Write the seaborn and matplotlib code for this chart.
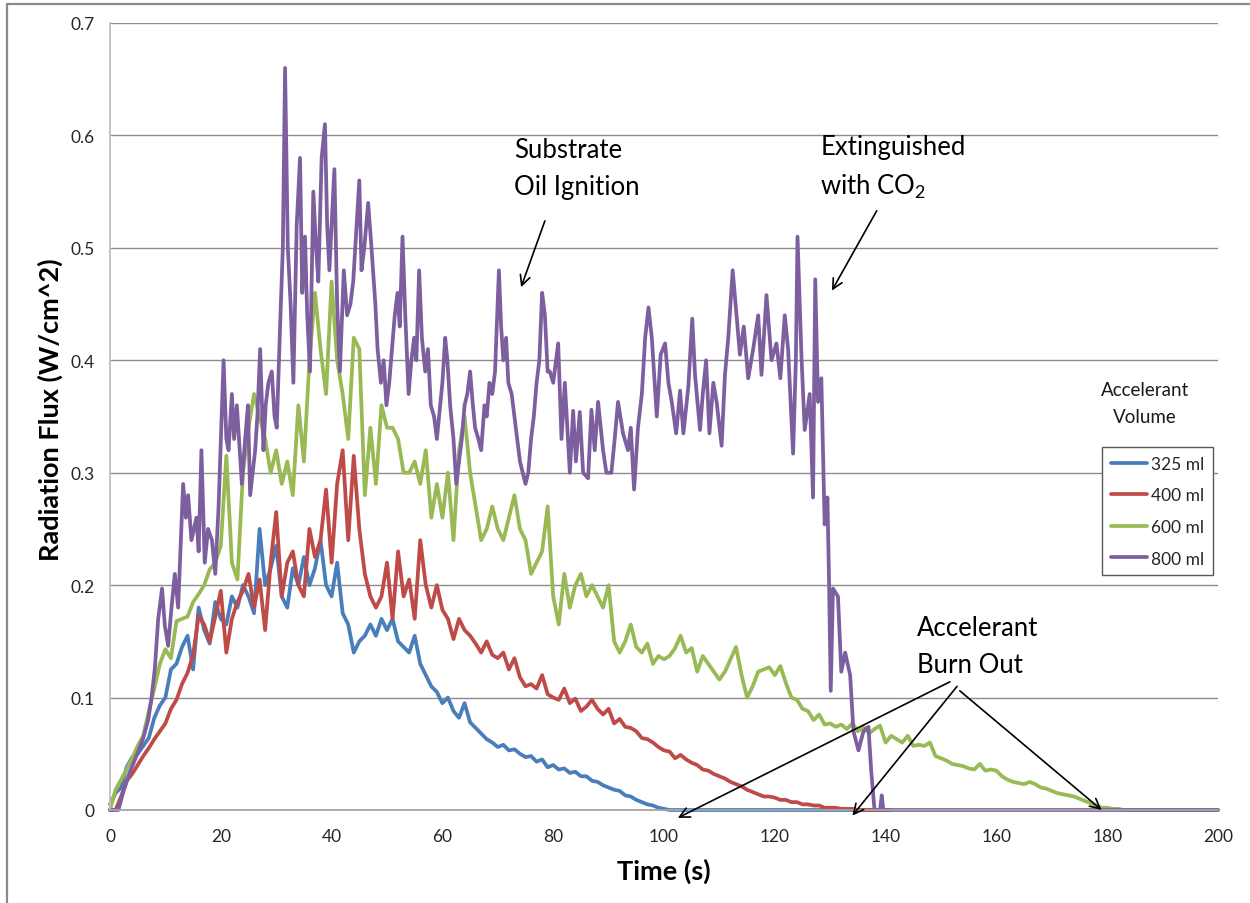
import numpy as np
import pandas as pd
import matplotlib
matplotlib.use("Agg")
import matplotlib.pyplot as plt
import seaborn as sns
from matplotlib.ticker import FuncFormatter
from matplotlib.lines import Line2D

# ---------------- data ----------------
series_labels = ["325 ml", "400 ml", "600 ml", "800 ml"]
series_colors = ["#4A7EBB", "#BE4B48", "#98B954", "#7D5FA0"]

# 325 ml, one value per second from t = 0 s
blue_325 = [0.005, 0.015, 0.02, 0.038, 0.047, 0.05, 0.057, 0.064, 0.082, 0.093,
            0.10, 0.125, 0.13, 0.145, 0.155, 0.125, 0.18, 0.16, 0.148, 0.185,
            0.17, 0.165, 0.19, 0.18, 0.20, 0.19, 0.175, 0.25, 0.20, 0.215,
            0.235, 0.19, 0.18, 0.215, 0.20, 0.225, 0.20, 0.215, 0.24, 0.20,
            0.19, 0.22, 0.175, 0.165, 0.14, 0.15, 0.155, 0.165, 0.155, 0.17,
            0.16, 0.17, 0.15, 0.145, 0.14, 0.155, 0.13, 0.12, 0.11, 0.105,
            0.095, 0.10, 0.088, 0.082, 0.095, 0.078, 0.073, 0.068, 0.063, 0.06,
            0.056, 0.058, 0.053, 0.054, 0.05, 0.047, 0.048, 0.043, 0.045, 0.038,
            0.04, 0.036, 0.037, 0.033, 0.034, 0.03, 0.03, 0.026, 0.025, 0.022,
            0.02, 0.018, 0.017, 0.013, 0.012, 0.009, 0.007, 0.005, 0.004, 0.002,
            0.001] + [0.0] * 40

# 400 ml, one value per second from t = 0 s
red_400 = [0.0, 0.0, 0.012, 0.026, 0.032, 0.04, 0.048, 0.055, 0.063, 0.07,
           0.077, 0.09, 0.098, 0.112, 0.122, 0.138, 0.173, 0.165, 0.15, 0.172,
           0.195, 0.14, 0.17, 0.185, 0.195, 0.21, 0.18, 0.205, 0.16, 0.22,
           0.265, 0.19, 0.22, 0.23, 0.20, 0.19, 0.25, 0.225, 0.24, 0.285,
           0.22, 0.29, 0.32, 0.24, 0.315, 0.25, 0.21, 0.19, 0.18, 0.19,
           0.22, 0.17, 0.23, 0.19, 0.205, 0.17, 0.24, 0.20, 0.18, 0.20,
           0.178, 0.17, 0.152, 0.17, 0.16, 0.155, 0.148, 0.14, 0.15, 0.138,
           0.135, 0.14, 0.125, 0.135, 0.118, 0.11, 0.112, 0.108, 0.12, 0.103,
           0.10, 0.098, 0.108, 0.095, 0.099, 0.088, 0.092, 0.098, 0.09, 0.085,
           0.09, 0.077, 0.081, 0.074, 0.073, 0.07, 0.064, 0.063, 0.06, 0.056,
           0.053, 0.052, 0.046, 0.049, 0.045, 0.042, 0.04, 0.036, 0.035, 0.032,
           0.03, 0.028, 0.025, 0.023, 0.021, 0.018, 0.016, 0.014, 0.012, 0.012,
           0.011, 0.009, 0.009, 0.007, 0.007, 0.005, 0.005, 0.004, 0.004, 0.002,
           0.002, 0.002, 0.001, 0.001, 0.001, 0.0, 0.0, 0.0, 0.0, 0.0,
           0.0, 0.0]

# 600 ml, one value per second from t = 0 s
green_600 = [0.0, 0.018, 0.027, 0.036, 0.046, 0.057, 0.066, 0.088, 0.108, 0.13,
             0.143, 0.135, 0.168, 0.17, 0.172, 0.185, 0.192, 0.20, 0.214, 0.22,
             0.235, 0.315, 0.22, 0.205, 0.30, 0.34, 0.37, 0.35, 0.33, 0.30,
             0.32, 0.29, 0.31, 0.28, 0.36, 0.31, 0.40, 0.46, 0.41, 0.37,
             0.47, 0.40, 0.37, 0.33, 0.42, 0.41, 0.28, 0.34, 0.29, 0.36,
             0.34, 0.34, 0.33, 0.30, 0.30, 0.31, 0.29, 0.32, 0.26, 0.29,
             0.26, 0.30, 0.24, 0.32, 0.35, 0.30, 0.27, 0.24, 0.25, 0.27,
             0.25, 0.24, 0.26, 0.28, 0.25, 0.24, 0.21, 0.22, 0.23, 0.27,
             0.19, 0.165, 0.21, 0.18, 0.20, 0.21, 0.19, 0.20, 0.19, 0.18,
             0.20, 0.15, 0.14, 0.15, 0.165, 0.145, 0.14, 0.148, 0.13, 0.137,
             0.134, 0.137, 0.144, 0.155, 0.14, 0.144, 0.123, 0.137, 0.13, 0.123,
             0.116, 0.123, 0.134, 0.145, 0.12, 0.10, 0.11, 0.123, 0.125, 0.127,
             0.12, 0.128, 0.113, 0.10, 0.098, 0.09, 0.088, 0.08, 0.085, 0.076,
             0.077, 0.074, 0.076, 0.072, 0.077, 0.07, 0.074, 0.068, 0.072, 0.075,
             0.06, 0.066, 0.063, 0.06, 0.066, 0.057, 0.058, 0.057, 0.06, 0.048,
             0.046, 0.044, 0.041, 0.04, 0.039, 0.037, 0.036, 0.041, 0.035, 0.036,
             0.035, 0.03, 0.027, 0.025, 0.024, 0.023, 0.025, 0.023, 0.02, 0.019,
             0.017, 0.015, 0.014, 0.013, 0.012, 0.01, 0.008, 0.006, 0.004, 0.002,
             0.002, 0.001, 0.001] + [0.0] * 18

# 800 ml, read at its peaks and troughs (time in s, flux)
purple_time = [0, 1.5, 2.4, 3.6, 5.1, 6.0, 6.9, 7.5, 8.1, 8.7, 9.4, 9.9, 10.5, 11.1, 11.7,
               12.3, 13.2, 13.7, 14.1, 14.7, 15.6, 16.0, 16.5, 17.1, 17.7, 18.4, 19.0,
               19.6, 20.5, 21.0, 21.4, 22.0, 22.4, 22.9, 23.8, 24.4, 24.9, 25.3, 26.2,
               26.6, 27.1, 27.7, 28.1, 28.6, 29.2, 29.7, 30.1, 30.7, 31.2, 31.6, 32.1,
               32.6, 33.1, 33.7, 34.3, 34.7, 35.2, 35.6, 36.1, 36.7, 37.2, 37.6, 38.2,
               38.8, 39.2, 39.6, 40.5, 41.0, 41.5, 42.2, 42.8, 43.4, 43.9, 44.5, 45.0,
               45.4, 45.9, 46.6, 47.2, 47.9, 48.3, 48.9, 49.4, 49.9, 50.4, 50.9, 51.4,
               51.9, 52.3, 52.8, 53.3, 53.9, 54.4, 54.9, 55.3, 55.8, 56.3, 56.9, 57.4,
               57.9, 58.5, 59.0, 59.6, 60.0, 60.5, 60.9, 61.4, 62.0, 62.5, 63.0, 63.5,
               64.0, 64.5, 65.0, 65.5, 65.9, 66.5, 67.0, 67.6, 68.0, 68.5, 69.0, 69.5,
               70.2, 70.6, 71.0, 71.5, 71.9, 72.5, 73.0, 73.5, 74.0, 74.5, 75.0, 75.5,
               76.0, 76.5, 77.0, 77.5, 78.0, 78.5, 79.0, 79.4, 80.0, 80.9, 81.5, 82.1,
               83.0, 83.6, 84.1, 84.8, 85.4, 86.3, 86.9, 87.5, 88.1, 89.0, 89.6, 90.5,
               91.1, 91.7, 92.6, 93.5, 94.0, 94.6, 95.3, 96.0, 96.6, 97.2, 97.8, 98.7,
               99.4, 100.2, 100.8, 101.4, 102.2, 102.9, 103.5, 104.4, 105.1, 105.6,
               106.5, 107.0, 107.6, 108.2, 108.9, 109.5, 110.4, 111.0, 111.6, 112.4,
               113.1, 113.7, 114.4, 115.2, 116.1, 117.0, 117.6, 118.5, 119.4, 120.3,
               121.0, 121.8, 122.4, 123.3, 123.8, 124.1, 124.8, 125.4, 126.3, 126.9,
               127.3, 127.8, 128.4, 129.0, 129.5, 129.8, 130.1, 130.5, 131.4, 132.0,
               132.7, 133.6, 134.2, 135.1, 136.0, 136.9, 137.4, 138.0, 139.0, 139.3,
               139.6, 200.0]
purple_800 = [0.0, 0.0, 0.016, 0.034, 0.052, 0.064, 0.08, 0.10, 0.126, 0.17, 0.197, 0.164, 0.146, 0.18, 0.21,
              0.18, 0.29, 0.26, 0.28, 0.24, 0.26, 0.23, 0.32, 0.22, 0.25, 0.24, 0.21,
              0.27, 0.40, 0.33, 0.32, 0.37, 0.33, 0.36, 0.29, 0.33, 0.36, 0.28, 0.32,
              0.35, 0.41, 0.32, 0.36, 0.38, 0.39, 0.35, 0.34, 0.43, 0.50, 0.66, 0.50,
              0.45, 0.38, 0.52, 0.58, 0.46, 0.51, 0.44, 0.39, 0.55, 0.50, 0.47, 0.58,
              0.61, 0.52, 0.48, 0.57, 0.45, 0.39, 0.48, 0.44, 0.45, 0.47, 0.52, 0.56,
              0.48, 0.50, 0.54, 0.50, 0.45, 0.41, 0.38, 0.40, 0.36, 0.38, 0.41, 0.44,
              0.46, 0.43, 0.51, 0.44, 0.37, 0.40, 0.42, 0.40, 0.48, 0.42, 0.39, 0.41,
              0.36, 0.35, 0.33, 0.36, 0.38, 0.42, 0.40, 0.36, 0.33, 0.29, 0.31, 0.33,
              0.36, 0.37, 0.39, 0.36, 0.34, 0.33, 0.32, 0.36, 0.35, 0.38, 0.37, 0.39,
              0.48, 0.43, 0.40, 0.42, 0.38, 0.37, 0.35, 0.33, 0.31, 0.30, 0.29, 0.30,
              0.33, 0.35, 0.38, 0.40, 0.46, 0.44, 0.39, 0.39, 0.38, 0.415, 0.33, 0.38,
              0.30, 0.355, 0.31, 0.354, 0.30, 0.295, 0.356, 0.32, 0.363, 0.32, 0.30, 0.30,
              0.33, 0.363, 0.335, 0.32, 0.34, 0.285, 0.34, 0.37, 0.42, 0.447, 0.42, 0.35,
              0.405, 0.415, 0.38, 0.363, 0.335, 0.373, 0.335, 0.377, 0.437, 0.387,
              0.338, 0.37, 0.40, 0.335, 0.38, 0.363, 0.324, 0.387, 0.42, 0.48,
              0.44, 0.405, 0.43, 0.384, 0.41, 0.44, 0.387, 0.458, 0.40, 0.415,
              0.384, 0.44, 0.41, 0.317, 0.40, 0.51, 0.405, 0.338, 0.37, 0.278,
              0.472, 0.363, 0.384, 0.254, 0.278, 0.20, 0.106, 0.197, 0.19, 0.123,
              0.14, 0.12, 0.07, 0.053, 0.07, 0.074, 0.035, 0.0, 0.0, 0.013,
              0.0, 0.0]

x_ticks = [0, 20, 40, 60, 80, 100, 120, 140, 160, 180, 200]
y_ticks = [0, 0.1, 0.2, 0.3, 0.4, 0.5, 0.6, 0.7]

# ---------------- styling ----------------
sns.set_theme(style="white")
plt.rcParams['font.family'] = ['Lato', 'DejaVu Sans']
plt.rcParams['mathtext.default'] = 'regular'

W, H = 1250, 904
fig = plt.figure(figsize=(W / 100, H / 100), dpi=100)
ax = fig.add_axes([110 / W, 93 / H, 1108 / W, 787 / H])

frames = [
    pd.DataFrame({"t": np.arange(len(blue_325)), "flux": blue_325}),
    pd.DataFrame({"t": np.arange(len(red_400)), "flux": red_400}),
    pd.DataFrame({"t": np.arange(len(green_600)), "flux": green_600}),
    pd.DataFrame({"t": purple_time, "flux": purple_800}),
]
for df, lab, col in zip(frames, series_labels, series_colors):
    sns.lineplot(data=df, x="t", y="flux", ax=ax, color=col, linewidth=2.7,
                 label=lab, estimator=None, sort=False)
for ln in ax.get_lines():
    ln.set_clip_on(False)
    ln.set_solid_joinstyle('round')

ax.set_xlim(0, 200)
ax.set_ylim(0, 0.7)
ax.set_xticks(x_ticks)
ax.set_yticks(y_ticks)
ax.yaxis.set_major_formatter(FuncFormatter(lambda v, p: "0" if abs(v) < 1e-9 else f"{v:.1f}"))
ax.yaxis.grid(True, color="#8c8c8c", linewidth=1.0)
ax.xaxis.grid(False)
ax.set_axisbelow(True)
for s in ["top", "right"]:
    ax.spines[s].set_visible(False)
ax.spines["left"].set_color("#bfbfbf")
ax.spines["left"].set_linewidth(1.3)
ax.spines["bottom"].set_color("#a6a6a6")
ax.spines["bottom"].set_linewidth(1.3)
ax.tick_params(axis="both", direction="out", length=5, width=1.0, color="#8c8c8c",
               labelsize=12.5, labelcolor="#262626")
ax.tick_params(axis="x", pad=8)
ax.tick_params(axis="y", pad=6)

ax.set_xlabel("Time (s)", fontsize=19.5, fontweight="bold", color="black")
ax.set_ylabel("Radiation Flux (W/cm^2)", fontsize=19.5, fontweight="bold", color="black")
ax.xaxis.set_label_coords(0.5, (811 - 871) / 787)
ax.xaxis.label.set_va("center")
ax.yaxis.set_label_coords((50 - 110) / 1108, (811 - 410) / 787)
ax.yaxis.label.set_va("center")

# legend
leg = ax.legend(loc="upper left", bbox_to_anchor=(1102 / W, 1 - 448 / H),
                bbox_transform=fig.transFigure, frameon=True, fancybox=False,
                edgecolor="#595959", fontsize=12.5, handlelength=2.1,
                handletextpad=0.2, labelspacing=0.9, borderpad=0.5, borderaxespad=0,
                labelcolor="#262626")
leg.get_frame().set_linewidth(1.0)
leg.get_frame().set_facecolor("white")
leg.get_frame().set_alpha(1)
fig.text(1145 / W, 1 - 423 / H, "Accelerant\nVolume", ha="center", va="baseline",
         fontsize=13.5, linespacing=1.73, multialignment="center", color="#1a1a1a")

# annotations (anchored at the baseline of the last line)
ann_font = dict(fontsize=18.5, linespacing=1.6, color="black", va="baseline", ha="left")
ax.text(72.9, 0.548, "Substrate\nOil Ignition", **ann_font)
ax.text(128.2, 0.548, "Extinguished\nwith CO$_2$", **ann_font)
ax.text(145.7, 0.1227, "Accelerant\nBurn Out", **ann_font)

arrow = dict(arrowstyle="->", color="black", lw=1.2, shrinkA=0, shrinkB=0, mutation_scale=18)
ax.annotate("", xy=(74.2, 0.465), xytext=(78.5, 0.524), arrowprops=arrow, annotation_clip=False)
ax.annotate("", xy=(130.3, 0.462), xytext=(138.4, 0.533), arrowprops=arrow, annotation_clip=False)
ax.annotate("", xy=(102.5, -0.007), xytext=(151.6, 0.114), arrowprops=arrow, annotation_clip=False)
ax.annotate("", xy=(134.0, -0.005), xytext=(152.9, 0.110), arrowprops=arrow, annotation_clip=False)
ax.annotate("", xy=(179.0, 0.0), xytext=(153.4, 0.106), arrowprops=arrow, annotation_clip=False)

# chart-area border
fig.add_artist(Line2D([7 / W, 7 / W], [0, 1 - 5 / H], transform=fig.transFigure,
                      color="#8a8a8a", lw=1.6))
fig.add_artist(Line2D([7 / W, 1], [1 - 5 / H, 1 - 5 / H], transform=fig.transFigure,
                      color="#8a8a8a", lw=1.6))

fig.savefig("out.png", dpi=100, facecolor="white")
